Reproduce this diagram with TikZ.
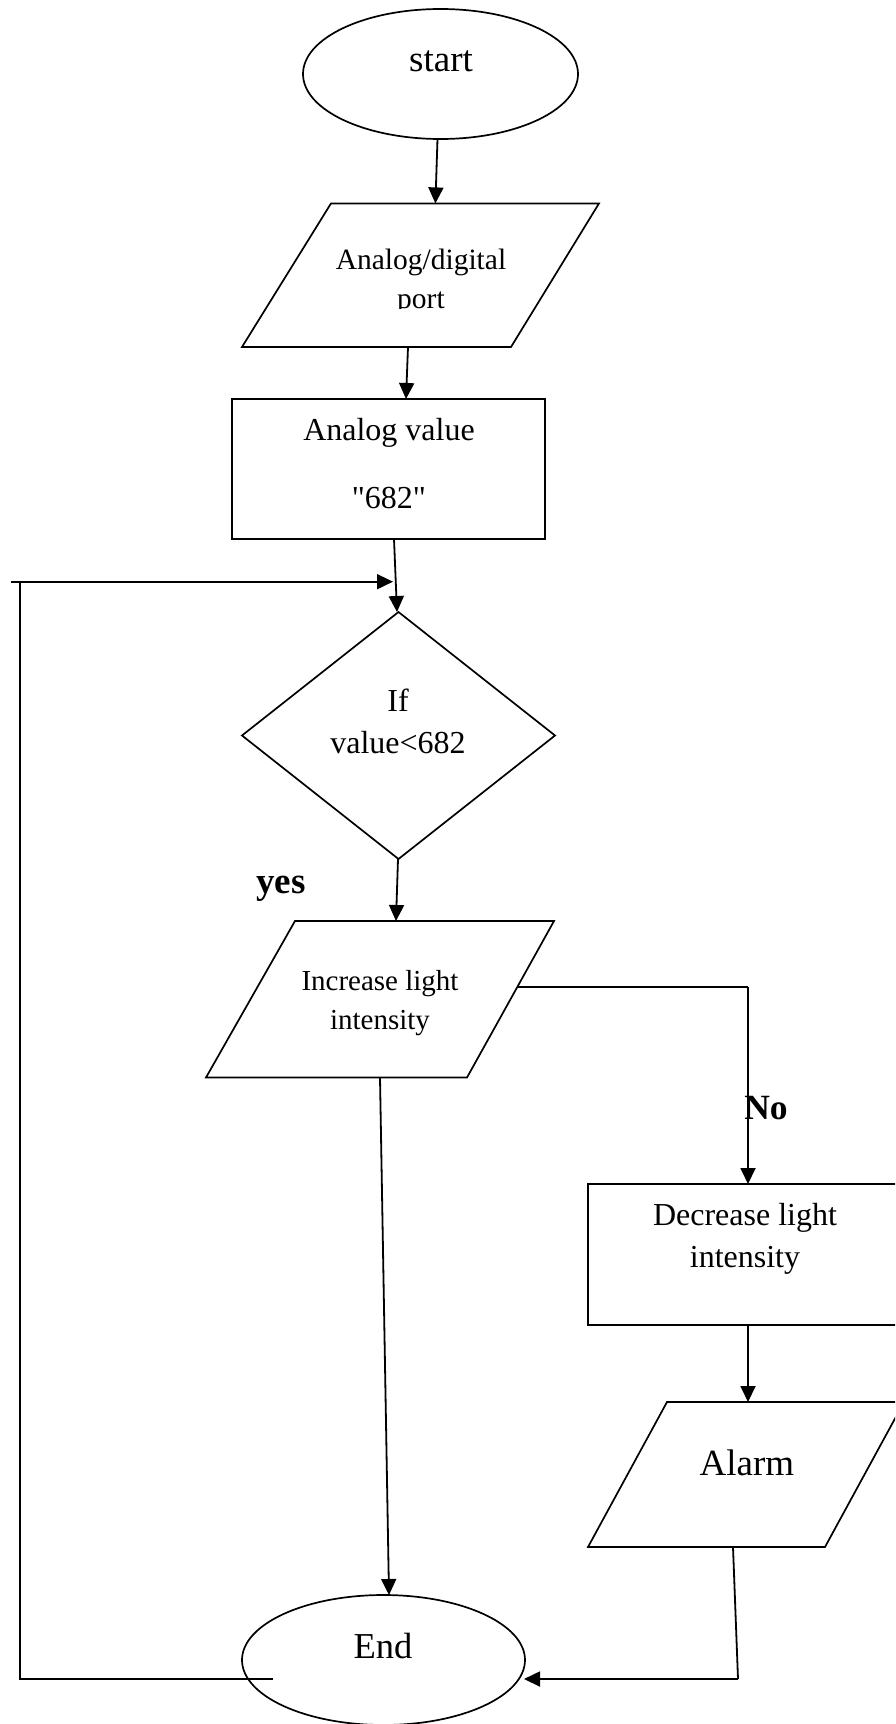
\documentclass[tikz,border=0pt]{standalone}
\usepackage{fontspec}
\setmainfont{Liberation Serif}[Ligatures=TeXOff]
\usetikzlibrary{shapes.geometric,arrows.meta}
\begin{document}
\begin{tikzpicture}[x=1pt,y=-1pt,
  box/.style={draw, line width=1.7pt, inner sep=0pt, outer sep=0pt},
  arr/.style={-{Triangle[length=16pt,width=15pt]}, line width=1.8pt},
  conn/.style={line width=1.8pt},
  txt/.style={inner sep=0pt, font=\fontsize{#1}{#1}\selectfont},
  btxt/.style={inner sep=0pt, font=\fontsize{#1}{#1}\selectfont\bfseries}]
\path[use as bounding box] (0,0) rectangle (895,1724);
\clip (0,0) rectangle (895,1724);

% start
\node[box, ellipse, minimum width=275pt, minimum height=130pt] (start) at (440.5,74) {};
\node[txt=37] (startt) at (441,61) {start};

% input parallelogram 1
\draw[line width=1.7pt, line join=miter] (331,203.4) -- (599,203.4) -- (511,347) -- (242,347) -- cycle;
\coordinate (p1top) at (435.4,203.4);
\coordinate (p1bot) at (408,347);
\node[txt=29.5] (p1a) at (421,262) {Analog/digital};
\begin{scope}
\clip (300,280) rectangle (540,308.8);
\node[txt=29.5, anchor=base] (p1b) at (421,308.3) {port};
\end{scope}

% rect 1
\node[box, minimum width=313pt, minimum height=140pt] (r1) at (388.5,469) {};
\node[txt=32, anchor=base] (r1a) at (389,440) {Analog value};
\node[txt=32, anchor=base] (r1b) at (389,508) {"682"};
\coordinate (r1top) at (406,399);
\coordinate (r1bot) at (394,539);

% decision
\node[box, diamond, minimum width=313pt, minimum height=247pt] (d) at (398.5,735.5) {};
\node[txt=32] (da) at (398,700) {If};
\node[txt=32] (db) at (398,743) {value<682};
\coordinate (dtop) at (397,612);
\coordinate (dbot) at (398,859);
\node[btxt=37, anchor=base] (yes) at (281,893) {yes};

% parallelogram 2
\draw[line width=1.7pt, line join=miter] (295,921) -- (554,921) -- (467,1077.5) -- (206,1077.5) -- cycle;
\coordinate (p2top) at (396,921);
\coordinate (p2bot) at (380,1077.5);
\coordinate (p2right) at (517.5,987);
\node[txt=29] (p2a) at (380,984) {Increase light};
\node[txt=29] (p2b) at (380,1023) {intensity};

% No branch
\coordinate (nocorner) at (748,987);
\coordinate (r2top) at (748,1184);
\node[btxt=35.5] (no) at (766,1108) {No};

% rect 2
\node[box, minimum width=314pt, minimum height=141pt] (r2) at (745,1254.5) {};
\node[txt=32] (r2a) at (745,1218) {Decrease light};
\node[txt=32] (r2b) at (745,1260) {intensity};
\coordinate (r2bot) at (748,1325);

% alarm parallelogram
\draw[line width=1.7pt, line join=miter] (667,1402) -- (904,1402) -- (825,1547) -- (588,1547) -- cycle;
\coordinate (altop) at (748,1402);
\coordinate (albot) at (733,1547);
\node[txt=37] (alt) at (747,1463) {Alarm};

% End
\node[box, ellipse, minimum width=283pt, minimum height=130pt] (end) at (383.5,1660) {};
\node[txt=36.5] (endt) at (383,1646) {End};
\coordinate (endtop) at (389,1595);
\coordinate (endright) at (524,1679);
\coordinate (endin) at (273,1679);
\coordinate (albend) at (738,1679);

% loop
\coordinate (l1) at (20,1679);
\coordinate (l2) at (20,581.7);
\coordinate (l0) at (11,581.7);
\coordinate (ltip) at (393,581.7);

% connectors
\draw[arr] ([xshift=-3pt]start.south) -- (p1top);
\draw[arr] (p1bot) -- (r1top);
\draw[arr] (r1bot) -- (dtop);
\draw[arr] (dbot) -- (p2top);
\draw[conn] (p2right) -- (nocorner);
\draw[arr] (nocorner) -- (r2top);
\draw[arr] (r2bot) -- (altop);
\draw[arr] (p2bot) -- (endtop);
\draw[conn] (albot) -- (albend);
\draw[arr] (albend) -- (endright);
\draw[conn] (endin) -- (l1) -- (l2);
\draw[arr] (l0) -- (ltip);
\end{tikzpicture}
\end{document}
